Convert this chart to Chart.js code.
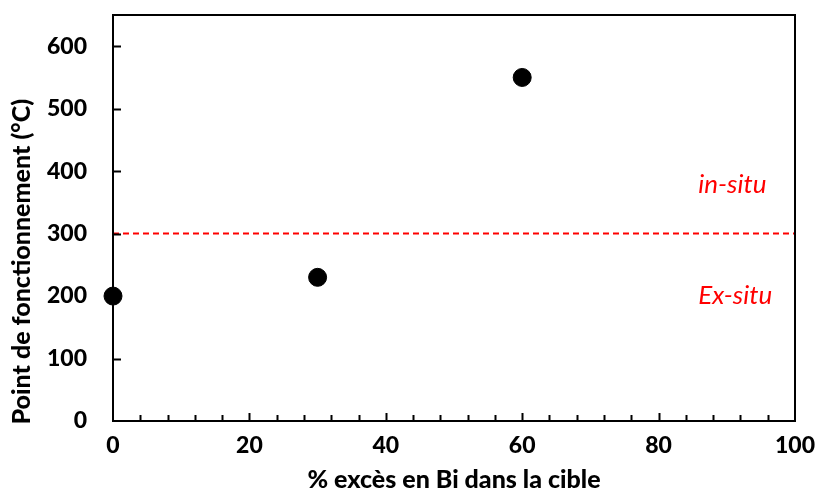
<!DOCTYPE html>
<html>
<head>
  <title>Point de fonctionnement</title>
  <script src="https://cdn.jsdelivr.net/npm/chart.js"></script>
  <style>
    body {
      margin: 0;
      background: #fff;
    }
    #wrap {
      width: 816px;
      height: 495px;
    }
  </style>
</head>
<body>
  <div id="wrap"><canvas id="pointChart" width="816" height="495"></canvas></div>

  <script>
    // data
    const excesBi = [0, 30, 60];
    const pointFonct = [200, 230, 550];
    const seuilX = [0, 100];
    const seuilY = [300, 300];
    const zoneLabels = ['in-situ', 'Ex-situ'];
    const zoneLabelY = [378, 200];
    const zoneLabelX = 85.8;
    const yTitle = 'Point de fonctionnement (°C)';

    const FONT = 'Lato, "Open Sans", sans-serif';

    // box + inward tick marks + red zone labels + y title (sits a bit low in the original)
    const decor = {
      id: 'decor',
      afterDraw(chart) {
        const c = chart.ctx;
        const a = chart.chartArea;
        const xs = chart.scales.x, ys = chart.scales.y;
        c.save();
        c.strokeStyle = '#000';
        c.lineWidth = 2;
        c.strokeRect(a.left, a.top, a.right - a.left, a.bottom - a.top);

        c.beginPath();
        for (let v = 4; v < 100; v += 4) {
          const px = Math.round(xs.getPixelForValue(v)) + 0.5;
          const len = v % 20 === 0 ? 8 : 6;
          c.moveTo(px, a.bottom);
          c.lineTo(px, a.bottom - len);
        }
        for (let v = 100; v <= 600; v += 100) {
          const py = Math.round(ys.getPixelForValue(v)) + 0.5;
          c.moveTo(a.left, py);
          c.lineTo(a.left + 8, py);
        }
        c.stroke();

        c.fillStyle = '#ff0000';
        c.font = 'italic 26px ' + FONT;
        c.textAlign = 'left';
        c.textBaseline = 'middle';
        zoneLabels.forEach((t, i) => {
          c.fillText(t, xs.getPixelForValue(zoneLabelX), ys.getPixelForValue(zoneLabelY[i]));
        });

        c.fillStyle = '#000';
        c.font = '900 25px ' + FONT;
        c.textAlign = 'center';
        c.translate(22, ys.getPixelForValue(255));
        c.rotate(-Math.PI / 2);
        c.fillText(yTitle, 0, 0);
        c.restore();
      }
    };

    const ctx = document.getElementById('pointChart').getContext('2d');
    new Chart(ctx, {
      type: 'scatter',
      data: {
        datasets: [
          {
            label: 'seuil',
            data: seuilX.map((x, i) => ({ x: x, y: seuilY[i] })),
            showLine: true,
            borderColor: '#ff0000',
            borderWidth: 2,
            borderDash: [6, 4],
            pointRadius: 0
          },
          {
            label: 'points',
            data: excesBi.map((x, i) => ({ x: x, y: pointFonct[i] })),
            backgroundColor: '#000',
            borderColor: '#000',
            pointRadius: 9,
            clip: false
          }
        ]
      },
      options: {
        responsive: false,
        animation: false,
        layout: { padding: { top: 15, right: 21, left: 0, bottom: 0 } },
        plugins: {
          legend: { display: false },
          tooltip: { enabled: false }
        },
        scales: {
          x: {
            type: 'linear',
            min: 0,
            max: 100,
            ticks: {
              stepSize: 20,
              padding: 3,
              color: '#000',
              font: { family: FONT, size: 23, weight: 900 }
            },
            grid: { display: false },
            border: { display: false },
            title: {
              display: true,
              text: '% excès en Bi dans la cible',
              color: '#000',
              font: { family: FONT, size: 25, weight: 900 },
              padding: { top: 9, bottom: 0 }
            },
            afterFit(scale) {
              scale.height = 74;
              scale.paddingLeft = 0;
              scale.paddingRight = 0;
            }
          },
          y: {
            min: 0,
            max: 650,
            ticks: {
              stepSize: 100,
              padding: 18,
              color: '#000',
              font: { family: FONT, size: 23, weight: 900 },
              callback: v => (v % 100 === 0 ? v : '')
            },
            grid: { display: false },
            border: { display: false },
            afterFit(scale) {
              scale.width = 113;
              scale.paddingTop = 0;
              scale.paddingBottom = 0;
            }
          }
        }
      },
      plugins: [decor]
    });
  </script>
</body>
</html>
